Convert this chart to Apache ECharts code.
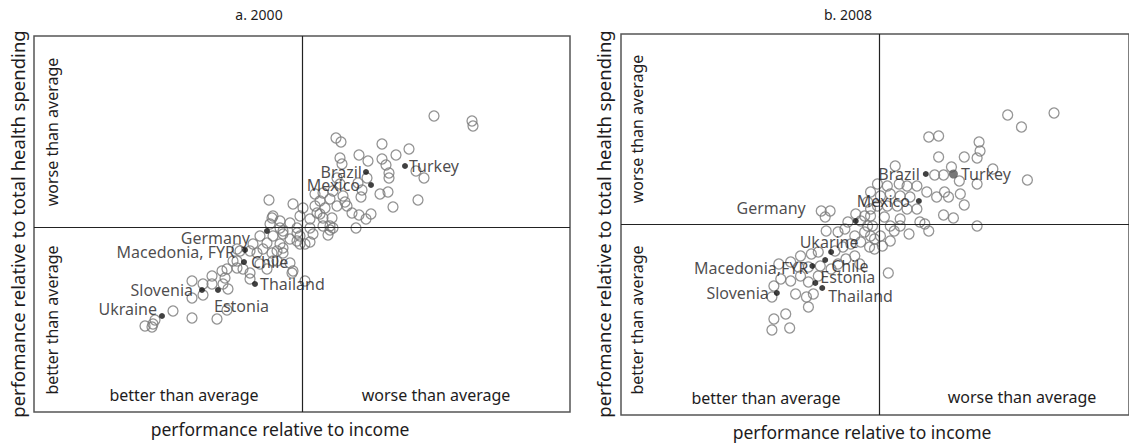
<!DOCTYPE html>
<html>
<head>
<meta charset="utf-8">
<script src="https://cdn.jsdelivr.net/npm/echarts@6/dist/echarts.min.js"></script>
<style>
html,body{margin:0;padding:0;background:#fff;}
#chart{width:1129px;height:443px;}
</style>
</head>
<body>
<div id="chart"></div>
<script>
// ---------- DATA (relative performance, arbitrary units; 0 = average) ----------
const panelTitles = ['a. 2000', 'b. 2008'];
const xAxisTitle = 'performance relative to income';
const yAxisTitle = 'perfomance relative to total health spending';
const quadrantBetter = 'better than average';
const quadrantWorse = 'worse than average';

// Panel a (2000): unlabeled countries [x, y]
const otherA = [
 [132,111],[170,106],[171,101],[34,89],[39,85],[80,83],[107,78],[94,72],[38,69],[57,72],
 [66,66],[80,68],[84,62],[40,63],[114,56],[122,49],[87,54],[87,49],[65,49],[35,49],
 [38,43],[56,44],[60,37],[78,33],[86,35],[59,30],[116,27],[91,20],[13,33],[21,34],
 [31,36],[41,31],[18,26],[28,28],[43,25],[13,21],[23,19],[35,21],[45,21],[50,14],
 [57,12],[69,13],[64,8],[-9,23],[1,19],[15,14],[21,9],[8,8],[-2,11],[54,-1],
 [28,1],[26,-8],[28,-3],[8,-15],[3,-17],[-5,-14],[-12,-36],[-10,-46],[3,-54],
 [-33,27],[-30,9],[-22,6],[-12,4],[18,13],[30,9],[-32,3],[-22,-1],[-5,-1],[8,-1],
 [21,1],[31,-1],[-42,-9],[-29,-9],[-19,-4],[-12,-12],[-2,-9],[11,-7],[-49,-17],[-35,-16],
 [-22,-17],[-2,-17],[-62,-24],[-45,-26],[-30,-26],[-19,-26],[-65,-34],[-42,-37],[-29,-34],
 [-29,11],[-19,-7],[-5,-6],[-65,-22],[-52,-24],[-39,-22],[-25,-24],[-19,-21],[-69,-34],
 [-65,-41],[-59,-42],[-52,-46],[-52,-52],[-35,-42],[-25,-34],[-9,-44],[-80,-44],[-75,-42],
 [-90,-49],[-77,-51],[-79,-57],[-74,-62],[-110,-54],[-99,-57],[-90,-57],[-110,-71],[-99,-68],
 [-75,-83],[-85,-92],[-110,-91],[-129,-84],[-157,-99],[-149,-97],[-150,-100],[-147,-93]
];
// Panel a (2000): highlighted countries
const namesA = ['Brazil','Mexico','Turkey','Germany','Macedonia, FYR','Chile','Thailand','Slovenia','Estonia','Ukraine'];
const xA = [64, 69, 103, -35, -57, -58, -47, -100, -84, -140];
const yA = [55, 42, 61, -4, -23, -35, -57, -63, -63, -89];

// Panel b (2008): unlabeled countries [x, y]
const otherB = [
 [177,111],[130,109],[144,97],[50,87],[60,88],[101,82],[102,73],[99,66],[60,67],[86,67],
 [16,58],[73,57],[115,55],[56,49],[65,49],[81,43],[99,40],[150,44],[-2,40],[8,38],
 [20,40],[28,38],[38,38],[48,32],[58,27],[66,32],[70,27],[82,30],[86,19],[-9,32],
 [1,28],[11,30],[21,28],[31,27],[-12,22],[-2,18],[8,18],[18,18],[28,15],[38,15],
 [65,9],[75,6],[99,-2],[41,2],[46,0],[-9,8],[5,7],[21,5],[-7,-2],[11,-2],
 [50,-7],[30,-10],[11,-17],[3,-22],[-5,-25],[9,-49],[21,-2],[15,-7],[-9,-12],[1,-12],
 [-59,13],[-50,13],[-55,7],[-15,8],[-9,15],[-54,-7],[-42,-8],[-32,2],[-35,-5],[-19,3],
 [-12,-2],[-15,-8],[-25,-12],[-5,-15],[-10,-23],[-19,-18],[-29,-20],[-37,-23],[-45,-27],[-62,-28],
 [-69,-30],[-80,-32],[-90,-38],[-102,-40],[-82,-43],[-90,-57],[-100,-55],[-107,-62],[-80,-52],[-72,-58],
 [-72,-43],[-60,-42],[-49,-45],[-42,-40],[-34,-35],[-25,-32],[-20,-40],[-109,-73],[-85,-70],[-74,-73],
 [-67,-70],[-72,-83],[-107,-95],[-95,-90],[-109,-106],[-91,-104],[-62,-52],[-24,10]
];
// Panel b (2008): highlighted countries
const namesB = ['Brazil','Turkey','Mexico','Germany','Ukarine','Chile','Macedonia,FYR','Estonia','Thailand','Slovenia'];
const xB = [47, 75, 40, -24, -49, -55, -68, -65, -58, -104];
const yB = [50, 50, 23, 3, -28, -36, -42, -59, -64, -69];

// ---------- STYLE / LAYOUT ----------
const FONT = '"Noto Sans", "Open Sans", sans-serif';
const TXT = '#1e1c1d';
const labelPlaceA = {
  'Brazil': {position:'left', distance:1, offset:[0,0]},
  'Mexico': {position:'left', distance:8, offset:[0,0]},
  'Turkey': {position:'right', distance:1, offset:[0,0]},
  'Germany': {position:'left', distance:14, offset:[0,7]},
  'Macedonia, FYR': {position:'left', distance:7, offset:[0,2]},
  'Chile': {position:'right', distance:4, offset:[0,0]},
  'Thailand': {position:'right', distance:2, offset:[0,0]},
  'Slovenia': {position:'left', distance:6, offset:[0,0]},
  'Estonia': {position:'right', distance:0, offset:[-7,16]},
  'Ukraine': {position:'left', distance:2, offset:[0,-7]}
};
const labelPlaceB = {
  'Brazil': {position:'left', distance:3, offset:[0,0]},
  'Turkey': {position:'right', distance:3, offset:[0,0]},
  'Mexico': {position:'left', distance:6, offset:[0,0]},
  'Germany': {position:'left', distance:47, offset:[0,-13]},
  'Ukarine': {position:'top', distance:1, offset:[-2,0]},
  'Chile': {position:'right', distance:3, offset:[0,6]},
  'Macedonia,FYR': {position:'left', distance:1, offset:[0,2]},
  'Estonia': {position:'right', distance:2, offset:[0,-6]},
  'Thailand': {position:'right', distance:3, offset:[0,8]},
  'Slovenia': {position:'left', distance:5, offset:[0,0]}
};

function labeled(names, xs, ys, place, special) {
  return names.map((n, i) => {
    const p = place[n];
    const sp = special && special[n];
    return {
      name: n,
      value: [xs[i], ys[i]],
      symbolSize: sp ? sp.size : 6,
      itemStyle: {color: sp ? sp.color : '#111'},
      label: {
        show: true, formatter: n, position: p.position, distance: p.distance, offset: p.offset,
        color: TXT, fontSize: 16, lineHeight: 12, fontFamily: FONT
      }
    };
  });
}

const openStyle = {color: 'rgba(0,0,0,0)', borderColor: '#7a7a7a', borderWidth: 1.3};
const quadLines = {
  silent: true, symbol: ['none','none'], label: {show:false},
  lineStyle: {color:'#222', width:1.2, type:'solid'},
  data: [{xAxis: 0}, {yAxis: 0}]
};
const hiddenAxis = {
  type:'value', axisLine:{show:false}, axisTick:{show:false}, axisLabel:{show:false}, splitLine:{show:false}
};
function txt(x, y, text, size, rot) {
  const t = {type:'text', x:x, y:y, style:{text:text, textAlign:'center', textVerticalAlign:'middle', fontSize:size, fontFamily:FONT, fill:TXT}};
  if (rot) t.rotation = Math.PI/2;
  return t;
}

const option = {
  animation: false,
  backgroundColor: '#fff',
  grid: [
    {left: 34, top: 36, width: 536, height: 376, show: true, borderColor: '#555', borderWidth: 1.5, backgroundColor:'transparent'},
    {left: 621, top: 34, width: 515, height: 381, show: true, borderColor: '#555', borderWidth: 1.5, backgroundColor:'transparent'}
  ],
  xAxis: [
    Object.assign({gridIndex:0, min:-268, max:268}, hiddenAxis),
    Object.assign({gridIndex:1, min:-262, max:253}, hiddenAxis)
  ],
  yAxis: [
    Object.assign({gridIndex:0, min:-185, max:191}, hiddenAxis),
    Object.assign({gridIndex:1, min:-191, max:190}, hiddenAxis)
  ],
  series: [
    {type:'scatter', xAxisIndex:0, yAxisIndex:0, data: otherA, symbol:'circle', symbolSize:10, itemStyle: openStyle, markLine: quadLines, z:2},
    {type:'scatter', xAxisIndex:0, yAxisIndex:0, data: labeled(namesA, xA, yA, labelPlaceA), symbol:'circle', z:3},
    {type:'scatter', xAxisIndex:1, yAxisIndex:1, data: otherB, symbol:'circle', symbolSize:10, itemStyle: openStyle, markLine: quadLines, z:2},
    {type:'scatter', xAxisIndex:1, yAxisIndex:1, data: labeled(namesB, xB, yB, labelPlaceB, {'Turkey':{size:9, color:'#555'}}), symbol:'circle', z:3}
  ],
  graphic: [
    txt(259, 14, panelTitles[0], 14),
    txt(848, 14, panelTitles[1], 14),
    txt(280, 429, xAxisTitle, 17.5),
    txt(862, 432, xAxisTitle, 17.5),
    txt(17, 224, yAxisTitle, 18.5, true),
    txt(603, 224, yAxisTitle, 18.5, true),
    txt(52, 132, quadrantWorse, 16, true),
    txt(52, 320, quadrantBetter, 16, true),
    txt(184, 395, quadrantBetter, 16),
    txt(436, 395, quadrantWorse, 16),
    txt(637, 129, quadrantWorse, 16, true),
    txt(637, 320, quadrantBetter, 16, true),
    txt(766, 398, quadrantBetter, 16),
    txt(1022, 397, quadrantWorse, 16)
  ]
};

const chart = echarts.init(document.getElementById('chart'), null, {renderer:'svg'});
chart.setOption(option);
</script>
</body>
</html>
